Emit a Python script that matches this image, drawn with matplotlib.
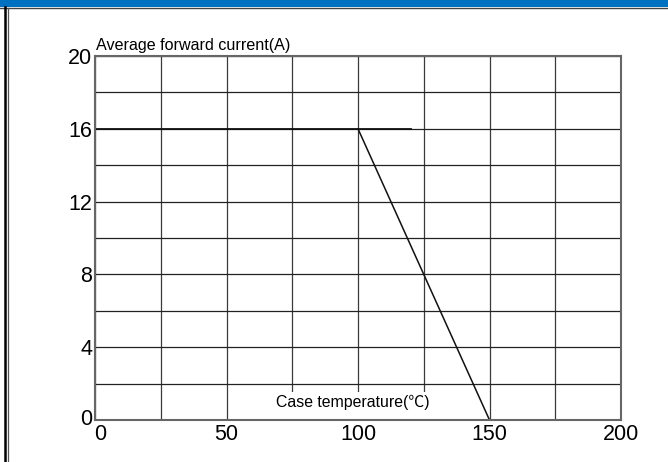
import matplotlib
matplotlib.use("Agg")
import matplotlib.pyplot as plt
from matplotlib.patches import Rectangle
from matplotlib.lines import Line2D
import matplotlib.transforms as mtransforms

# Data
temp_flat = [0, 120]
current_flat = [16, 16]
temp_derate = [100, 150]
current_derate = [16, 0]
x_ticks = [0, 50, 100, 150, 200]
y_ticks = [0, 4, 8, 12, 16, 20]
x_grid = [0, 25, 50, 75, 100, 125, 150, 175, 200]
y_grid = [0, 2, 4, 6, 8, 10, 12, 14, 16, 18, 20]
y_label = "Average forward current(A)"
x_label = "Case temperature(℃)"

fam = ["Liberation Sans", "Noto Sans CJK SC", "DejaVu Sans"]
plt.rcParams["font.family"] = fam

W, H = 668, 462
fig = plt.figure(figsize=(W / 100, H / 100), dpi=100)
fig.patch.set_facecolor("white")

ax = fig.add_axes([95 / W, (H - 420) / H, (621 - 95) / W, (420 - 56) / H])
ax.set_xlim(0, 200)
ax.set_ylim(0, 20)

for xv in x_grid:
    ax.axvline(xv, color="#3a3a3a", lw=0.9, zorder=1)
for yv in y_grid:
    ax.axhline(yv, color="#222222", lw=0.9, zorder=1)

# white box behind x label
ax.add_patch(Rectangle((66, 0), 62, 1.55, facecolor="white", edgecolor="none", zorder=2))

ax.plot(temp_flat, current_flat, color="#111111", lw=1.3, zorder=3)
ax.plot(temp_derate, current_derate, color="#111111", lw=1.1, zorder=3)

ax.set_xticks(x_ticks)
ax.set_yticks(y_ticks)
ax.tick_params(axis="both", length=0, labelsize=15.5, colors="black")
ax.tick_params(axis="x", pad=3)
ax.tick_params(axis="y", pad=2)
for s in ax.spines.values():
    s.set_color("#666666")
    s.set_linewidth(1.5)
    s.set_zorder(4)

# shift the first x tick label slightly right, as in the reference
fig.canvas.draw()
first = ax.get_xticklabels()[0]
first.set_transform(first.get_transform() + mtransforms.ScaledTranslation(5 / 100, 0, fig.dpi_scale_trans))
ylab0 = ax.get_yticklabels()[0]
ylab0.set_transform(ylab0.get_transform() + mtransforms.ScaledTranslation(0, 3 / 100, fig.dpi_scale_trans))

ax.text(98, 0.95, x_label, ha="center", va="center", fontsize=11.4, zorder=5)
ax.annotate(y_label, xy=(0, 20), xytext=(0.5, 4.5), textcoords="offset points",
            ha="left", va="baseline", fontsize=11.6, annotation_clip=False)

# top blue bar
fig.add_artist(Rectangle((0, (H - 7) / H), 1, 7 / H, transform=fig.transFigure,
                         facecolor="#0070C0", edgecolor="none"))
fig.add_artist(Line2D([0, 1], [(H - 8) / H] * 2, transform=fig.transFigure,
                      color="#444444", lw=1))
# left double border
fig.add_artist(Line2D([4.5 / W] * 2, [0, (H - 7) / H], transform=fig.transFigure,
                      color="black", lw=1.8))
fig.add_artist(Line2D([7.5 / W] * 2, [0, (H - 8) / H], transform=fig.transFigure,
                      color="#555555", lw=0.9))

fig.savefig("out.png", dpi=100)
